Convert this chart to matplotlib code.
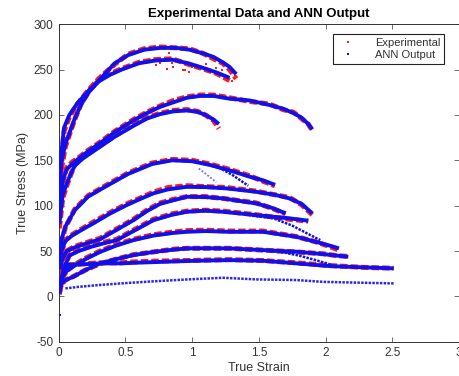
import numpy as np
import matplotlib
matplotlib.use('Agg')
import matplotlib.pyplot as plt
from matplotlib.lines import Line2D

plt.rcParams['font.family'] = ['Liberation Sans', 'DejaVu Sans']
plt.rcParams['axes.unicode_minus'] = False

strain_1 = [0.005, 0.02, 0.04, 0.08, 0.14, 0.22, 0.30, 0.42, 0.52, 0.64, 0.76, 0.88, 0.98, 1.08, 1.16, 1.23, 1.28, 1.33]
ann_1 = [120, 158, 186, 200, 213, 226, 238, 257, 266, 272, 274, 274, 272, 268, 264, 258, 253, 245]
exp_1 = [110, 150, 182, 198, 212, 227, 240, 256, 267, 273, 275, 274, 273, 268, 262, 257, 250, 240]

strain_2 = [0.005, 0.02, 0.05, 0.08, 0.12, 0.17, 0.23, 0.30, 0.38, 0.47, 0.60, 0.72, 0.85, 0.97, 1.08, 1.18, 1.28]
ann_2 = [115, 148, 168, 180, 196, 212, 226, 237, 244, 250, 257, 260, 261, 257, 252, 247, 241]
exp_2 = [105, 140, 165, 178, 195, 213, 227, 238, 245, 251, 258, 261, 262, 256, 251, 246, 238]

strain_3 = [0.005, 0.03, 0.06, 0.10, 0.15, 0.22, 0.31, 0.42, 0.56, 0.66, 0.76, 0.86, 0.96, 1.06, 1.16, 1.28, 1.43, 1.58, 1.68, 1.76, 1.82, 1.87, 1.90]
ann_3 = [95, 128, 140, 146, 152, 160, 169, 181, 194, 202, 209, 214, 219, 221, 221, 218, 216, 211, 207, 202, 197, 190, 184]
exp_3 = [90, 125, 142, 148, 153, 161, 170, 182, 195, 203, 210, 216, 220, 222, 222, 219, 215, 212, 206, 203, 196, 190, 183]

strain_4 = [0.005, 0.03, 0.06, 0.09, 0.12, 0.18, 0.25, 0.31, 0.42, 0.56, 0.66, 0.76, 0.86, 0.96, 1.04, 1.10, 1.16, 1.20]
ann_4 = [80, 112, 124, 135, 144, 152, 159, 165, 176, 188, 196, 201, 204, 205, 203.5, 200, 195, 190]
exp_4 = [75, 108, 122, 134, 145, 153, 160, 166, 177, 189, 197, 202, 205, 206, 204, 200, 194, 185]

strain_5 = [0.005, 0.02, 0.05, 0.12, 0.22, 0.35, 0.52, 0.70, 0.85, 1.00, 1.13, 1.28, 1.43, 1.53, 1.62]
ann_5 = [40, 62, 77, 95, 110, 121, 135, 146, 150, 149, 145, 139, 132, 128, 123]
exp_5 = [35, 60, 76, 96, 111, 122, 136, 147, 151, 150, 146, 140, 133, 127, 122]

strain_5b = [1.20, 1.30, 1.36, 1.42]
ann_5b = [142, 134, 128, 122]

strain_5c = [1.05, 1.12, 1.18]
ann_5c = [141, 133, 126]

strain_6 = [0.005, 0.02, 0.05, 0.10, 0.18, 0.26, 0.38, 0.51, 0.62, 0.71, 0.82, 0.96, 1.10, 1.26, 1.48, 1.62, 1.73, 1.82, 1.90]
ann_6 = [30, 50, 61, 67, 74, 80.5, 91, 100.7, 108, 113.6, 118, 120.8, 120.5, 119, 115.3, 112, 108, 102, 91.5]
exp_6 = [25, 48, 62, 68, 75, 82, 92, 102, 109, 115, 120, 122, 121, 120, 116, 112, 109, 101, 90]

strain_7 = [0.01, 0.03, 0.06, 0.12, 0.20, 0.31, 0.43, 0.56, 0.66, 0.76, 0.86, 0.96, 1.10, 1.23, 1.48, 1.60, 1.70]
ann_7 = [30, 42, 50, 54, 58, 63, 73, 84, 94, 102, 106, 109.8, 109.5, 108, 102.5, 97.5, 91.5]
exp_7 = [28, 40, 50, 55, 59, 64, 74, 85, 95, 103, 107, 110, 110, 108, 103, 97, 91]

strain_8 = [0.02, 0.05, 0.08, 0.15, 0.25, 0.35, 0.435, 0.56, 0.71, 0.85, 0.96, 1.10, 1.23, 1.48, 1.73, 1.87]
ann_8 = [20, 35, 45, 50, 55, 59, 62, 72, 84, 90, 93.3, 94.5, 93.3, 89.6, 86, 83.4]
exp_8 = [18, 34, 46, 51, 56, 60, 63, 73, 85, 91, 94, 95, 94, 90, 85, 83]

strain_8b = [1.45, 1.61, 1.75, 1.86, 1.96]
ann_8b = [89, 86, 78, 69.5, 62]

strain_9 = [0.01, 0.03, 0.06, 0.11, 0.20, 0.31, 0.43, 0.56, 0.71, 0.86, 0.96, 1.10, 1.28, 1.53, 1.78, 1.93, 2.03, 2.10]
ann_9 = [10, 22, 28, 33, 41, 49, 56, 62, 67, 70, 71.2, 72, 71.2, 71.2, 65.7, 60, 56, 52.9]
exp_9 = [8, 21, 28, 34, 42, 50, 57, 63, 68, 71, 72.5, 73, 72, 72, 66, 60, 55, 51]

strain_10 = [0.005, 0.02, 0.05, 0.11, 0.20, 0.31, 0.43, 0.56, 0.71, 0.86, 0.96, 1.10, 1.28, 1.53, 1.78, 1.98, 2.08, 2.17]
ann_10 = [5, 14, 18, 21.6, 29, 36.4, 41, 45.5, 49, 51.5, 52.9, 53, 52.9, 51, 49.2, 46.6, 45, 43.7]
exp_10 = [4, 13, 18, 22, 29, 36, 41, 46, 49, 52, 53, 53, 53, 51, 49, 47, 45, 44]

strain_10b = [1.58, 1.70, 1.80, 1.90, 2.01, 2.05]
ann_10b = [50, 48, 45, 41, 36.4, 34]

strain_11 = [0.005, 0.02, 0.04, 0.07, 0.11, 0.20, 0.31, 0.47, 0.56, 0.76, 0.96, 1.10, 1.28, 1.53, 1.78, 2.03, 2.28, 2.51]
ann_11 = [3, 18, 30, 34.5, 35, 35.5, 36.4, 36.4, 37, 38, 39, 39.5, 40, 39.3, 36.4, 33.4, 32, 30.9]
exp_11 = [2, 17, 31, 35, 35, 36, 37, 37, 38, 39, 39.5, 40, 40.5, 39.5, 37, 34, 32, 31]

strain_12 = [0.05, 0.15, 0.30, 0.47, 0.70, 0.97, 1.23, 1.48, 1.78, 1.98, 2.28, 2.51]
ann_12 = [8.8, 10.5, 12.5, 14.3, 16.5, 18.7, 20.5, 18.7, 18, 16, 15, 14.3]

# 散落的实验点
scatter_x = [0.73, 0.76, 0.81, 0.83, 0.85, 0.86, 0.93, 0.95, 0.98, 1.00, 1.10, 1.18, 1.22, 1.30, 1.32]
scatter_y = [255, 257, 251, 268, 257, 253, 249.5, 249.5, 247.6, 253, 256, 252, 250, 238, 243]

outlier_x = [0.01]
outlier_y = [-20]

curves = [
    (strain_1, ann_1, exp_1), (strain_2, ann_2, exp_2), (strain_3, ann_3, exp_3),
    (strain_4, ann_4, exp_4), (strain_5, ann_5, exp_5), (strain_6, ann_6, exp_6),
    (strain_7, ann_7, exp_7), (strain_8, ann_8, exp_8), (strain_9, ann_9, exp_9),
    (strain_10, ann_10, exp_10), (strain_11, ann_11, exp_11),
]
branches = [(strain_5b, ann_5b), (strain_8b, ann_8b), (strain_10b, ann_10b)]

fig = plt.figure(figsize=(4.6, 3.76), dpi=100)
ax = fig.add_axes([0.1276, 0.0912, 0.8704, 0.8442])

red = '#ff1a1a'
blue = '#1010ee'

# 实验值（红）
for s, a, e in curves:
    ax.plot(s, e, color=red, lw=3.6, ls=(0, (1.5, 0.6)), zorder=2)
ax.scatter(scatter_x, scatter_y, s=3, color=red, marker='s', lw=0, zorder=2)

# ANN 输出（蓝）
for s, a, e in curves:
    ax.plot(s, a, color=blue, lw=2.8, solid_capstyle='butt', zorder=3)
for s, a in branches:
    ax.plot(s, a, color=blue, lw=1.8, ls=(0, (1, 0.5)), zorder=3)
ax.plot(strain_5c, ann_5c, color='#6a6aff', lw=1.3, ls=(0, (1, 1)), zorder=3)
ax.plot(strain_12, ann_12, color=blue, lw=1.8, ls=(0, (1, 0.5)), alpha=0.9, zorder=3)
ax.plot(outlier_x, outlier_y, 's', color=blue, ms=1.5, mew=0, zorder=3)

ax.set_xlim(0, 3)
ax.set_ylim(-50, 300)
ax.set_xticks([0, 0.5, 1, 1.5, 2, 2.5, 3])
ax.set_xticklabels(['0', '0.5', '1', '1.5', '2', '2.5', '3'])
ax.set_yticks([-50, 0, 50, 100, 150, 200, 250, 300])
ax.tick_params(direction='in', top=True, right=True, length=3.5, width=0.6,
               labelsize=8.5, labelcolor='#333333', color='#555555', pad=4)
for sp in ax.spines.values():
    sp.set_linewidth(0.7)
    sp.set_color('#333333')

ax.set_xlabel('True Strain', fontsize=9, color='#333333', labelpad=2)
ax.set_ylabel('True Stress (MPa)', fontsize=9, color='#333333', labelpad=3)
ax.set_title('Experimental Data and ANN Output', fontsize=9.5, fontweight='bold', pad=5)

handles = [Line2D([], [], ls='none', marker='s', ms=1.6, mew=0, color=red),
           Line2D([], [], ls='none', marker='s', ms=1.6, mew=0, color=blue)]
leg = ax.legend(handles, ['Experimental', 'ANN Output'], loc='upper right',
                bbox_to_anchor=(0.9625, 0.969), borderaxespad=0, fontsize=8,
                frameon=True, fancybox=False, framealpha=1, edgecolor='#222222',
                handlelength=2.0, handletextpad=1.4, borderpad=0.35, labelspacing=0.15)
leg.get_frame().set_linewidth(0.8)
for t in leg.get_texts():
    t.set_color('#333333')

fig.savefig('out.png', dpi=100)
